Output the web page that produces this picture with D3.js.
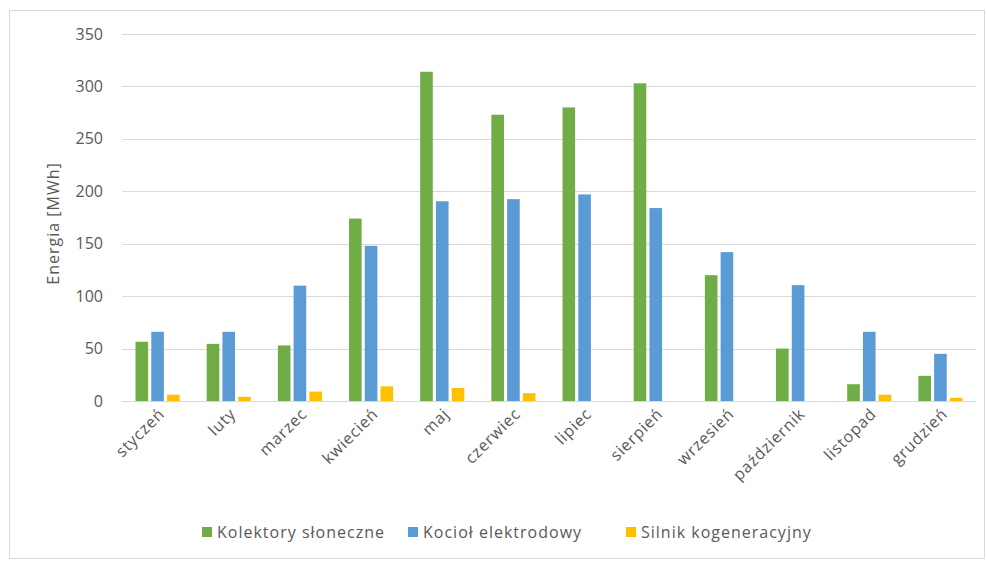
<!DOCTYPE html>
<html>
<head>
<meta charset="utf-8">
<script src="https://cdn.jsdelivr.net/npm/d3@7"></script>
<style>
  body { margin: 0; background: #fff; }
  svg { font-family: "Open Sans", sans-serif; }
</style>
</head>
<body>
<svg id="chart"></svg>
<script>
// data
const months = ["styczeń", "luty", "marzec", "kwiecień", "maj", "czerwiec", "lipiec",
    "sierpień", "wrzesień", "październik", "listopad", "grudzień"];
const seriesNames = ["Kolektory słoneczne", "Kocioł elektrodowy", "Silnik kogeneracyjny"];
const kolektory = [56.5, 54.5, 53, 174, 314, 273, 280, 303, 120, 50, 16, 24];
const kociol = [66, 66, 110, 148, 190.5, 192.5, 197, 184, 142, 110.5, 66, 45];
const silnik = [6, 4, 9, 14, 12.5, 7.5, 0, 0, 0, 0, 6, 3];
const yTicks = [0, 50, 100, 150, 200, 250, 300, 350];
const colors = ["#70AD47", "#5B9BD5", "#FFC000"];

const width = 987, height = 561;
const svg = d3.select("#chart").attr("width", width).attr("height", height);

// chart frame
svg.append("rect")
    .attr("x", 9.5).attr("y", 10.5)
    .attr("width", 975).attr("height", 548)
    .attr("fill", "#fff")
    .attr("stroke", "#d9d9d9");

const m = { left: 122, right: 976, top: 34, bottom: 401 };

const x0 = d3.scaleBand().domain(months)
    .range([m.left, m.right])
    .paddingInner(0.38).paddingOuter(0.19);
const x1 = d3.scaleBand().domain(seriesNames)
    .range([0, x0.bandwidth()])
    .paddingInner(0.2);
const y = d3.scaleLinear().domain([0, 350]).range([m.bottom, m.top]);

// gridlines
svg.append("g")
    .selectAll("line")
    .data(yTicks)
    .enter().append("line")
    .attr("x1", m.left).attr("x2", m.right)
    .attr("y1", d => Math.round(y(d)) + 0.5)
    .attr("y2", d => Math.round(y(d)) + 0.5)
    .style("stroke", "#d9d9d9")
    .style("stroke-width", 1);

// y tick labels
svg.append("g")
    .selectAll("text")
    .data(yTicks)
    .enter().append("text")
    .attr("x", 103)
    .attr("y", d => y(d))
    .attr("dy", "0.35em")
    .attr("text-anchor", "end")
    .attr("font-size", 16)
    .attr("fill", "#595959")
    .text(d => d);

// y axis title
svg.append("text")
    .attr("transform", "translate(59," + ((m.top + m.bottom) / 2 + 6) + ") rotate(-90)")
    .attr("text-anchor", "middle")
    .attr("font-size", 16)
    .attr("letter-spacing", 1)
    .attr("fill", "#595959")
    .text("Energia [MWh]");

// bars
const rows = months.map((mo, i) => ({
    month: mo,
    values: [kolektory[i], kociol[i], silnik[i]]
}));

const group = svg.append("g")
    .selectAll("g")
    .data(rows)
    .enter().append("g")
    .attr("transform", d => "translate(" + x0(d.month) + ",0)");

group.selectAll("rect")
    .data(d => d.values.map((v, k) => ({ name: seriesNames[k], value: v, k: k })))
    .enter().append("rect")
    .attr("x", d => x1(d.name))
    .attr("y", d => y(d.value))
    .attr("width", x1.bandwidth())
    .attr("height", d => y(0) - y(d.value))
    .attr("fill", d => colors[d.k]);

// x labels
svg.append("g")
    .selectAll("text")
    .data(months)
    .enter().append("text")
    .attr("transform", d => "translate(" + (x0(d) + x0.bandwidth() / 2 + 8) + ",415) rotate(-45)")
    .attr("text-anchor", "end")
    .attr("font-size", 16)
    .attr("letter-spacing", 0.8)
    .attr("fill", "#595959")
    .text(d => d);

// legend
const legendX = [202, 408, 626];
const legend = svg.append("g")
    .selectAll("g")
    .data(seriesNames)
    .enter().append("g")
    .attr("transform", (d, i) => "translate(" + legendX[i] + ",527)");

legend.append("rect")
    .attr("width", 10).attr("height", 10)
    .attr("fill", (d, i) => colors[i]);

legend.append("text")
    .attr("x", 15).attr("y", 5)
    .attr("dy", "0.35em")
    .attr("font-size", 16)
    .attr("letter-spacing", 1)
    .attr("fill", "#595959")
    .text(d => d);
</script>
</body>
</html>
